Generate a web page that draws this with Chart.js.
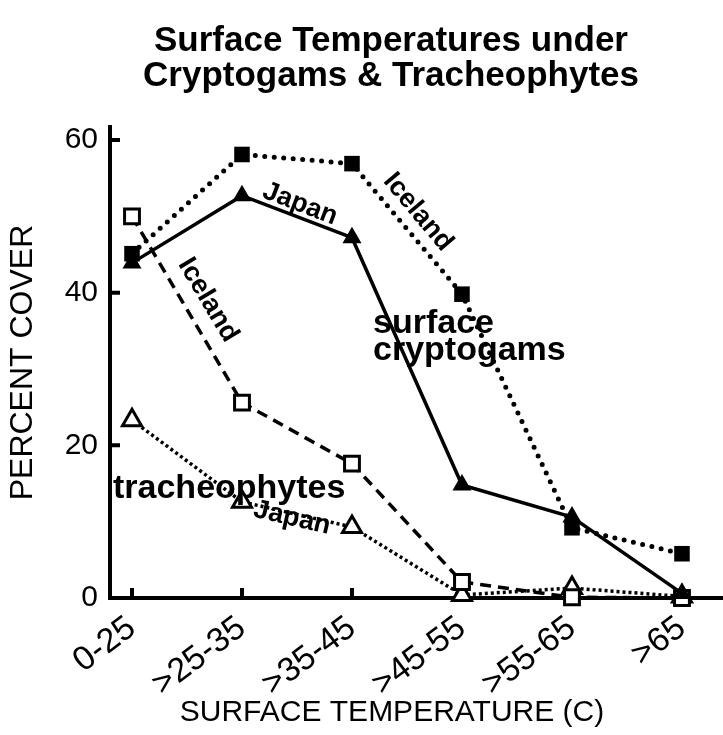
<!DOCTYPE html>
<html><head><meta charset="utf-8">
<script src="https://cdn.jsdelivr.net/npm/chart.js@4/dist/chart.umd.min.js"></script>
<style>html,body{margin:0;padding:0;background:#fff;overflow:hidden;} #wrap{width:723px;height:735px;}</style>
</head><body><div id="wrap"><canvas id="c" width="723" height="735"></canvas></div>
<script>
const categories = ['0-25', '>25-35', '>35-45', '>45-55', '>55-65', '>65'];
const icelandCryptogams = [45.1, 58.1, 56.9, 39.8, 9.2, 5.8];
const japanCryptogams = [43.9, 52.7, 47.2, 14.8, 10.6, 0.6];
const icelandTracheophytes = [50.0, 25.6, 17.6, 2.1, 0.1, 0.0];
const japanTracheophytes = [23.3, 12.6, 9.3, 0.4, 1.3, 0.2];
const yTicks = [0, 20, 40, 60];

const toPts = arr => arr.map((v, i) => ({x: i, y: v}));
const FONT = "'Liberation Sans', Arial, Helvetica, sans-serif";

const textPlugin = {
  id: 'texts',
  afterDraw(chart) {
    const ctx = chart.ctx;
    ctx.save();
    ctx.fillStyle = '#000';
    ctx.font = "bold 35px " + FONT;
    ctx.textAlign = 'center';
    ctx.textBaseline = 'alphabetic';
    ctx.fillText('Surface Temperatures under', 391, 51);
    ctx.fillText('Cryptogams & Tracheophytes', 391, 86);
    ctx.font = "30px " + FONT;
    ctx.fillText('SURFACE TEMPERATURE (C)', 392, 721);
    const rot = (txt, x, y, deg, font) => {
      ctx.save();
      ctx.translate(x, y);
      ctx.rotate(deg * Math.PI / 180);
      ctx.font = font;
      ctx.textAlign = 'center';
      ctx.textBaseline = 'middle';
      ctx.fillText(txt, 0, 0);
      ctx.restore();
    };
    rot('Japan', 300, 204, 21, "bold 27px " + FONT);
    rot('Iceland', 418, 212, 50, "bold 27px " + FONT);
    rot('Iceland', 208, 300, 59, "bold 27px " + FONT);
    rot('Japan', 292, 518, 13, "bold 27px " + FONT);
    ctx.font = "bold 34px " + FONT;
    ctx.textAlign = 'left';
    ctx.textBaseline = 'alphabetic';
    ctx.fillText('surface', 373, 333);
    ctx.fillText('cryptogams', 373, 360);
    ctx.fillText('tracheophytes', 113, 498);
    ctx.restore();
  }
};

const tickPlugin = {
  id: 'inTicks',
  beforeDatasetsDraw(chart) {
    const ctx = chart.ctx;
    const xs = chart.scales.x, ys = chart.scales.y;
    const a = chart.chartArea;
    ctx.save();
    ctx.strokeStyle = '#000';
    ctx.lineWidth = 4;
    ctx.lineCap = 'butt';
    ctx.beginPath();
    yTicks.forEach(v => {
      const py = ys.getPixelForValue(v);
      ctx.moveTo(a.left, py);
      ctx.lineTo(a.left + 10, py);
    });
    categories.forEach((c, i) => {
      const px = xs.getPixelForValue(i);
      ctx.moveTo(px, a.bottom);
      ctx.lineTo(px, a.bottom - 10);
    });
    ctx.stroke();
    ctx.restore();
  }
};

new Chart(document.getElementById('c'), {
  type: 'line',
  data: {
    datasets: [
      {
        label: 'Iceland cryptogams',
        data: toPts(icelandCryptogams),
        borderColor: '#000', backgroundColor: '#000',
        borderWidth: 5, borderDash: [0, 9.5], borderCapStyle: 'round',
        pointStyle: 'rect', pointRadius: 11, pointBorderWidth: 0,
        pointBackgroundColor: '#000', clip: false
      },
      {
        label: 'Japan cryptogams',
        data: toPts(japanCryptogams),
        borderColor: '#000', backgroundColor: '#000',
        borderWidth: 3.5,
        pointStyle: 'triangle', pointRadius: 11, pointBorderWidth: 0,
        pointBackgroundColor: '#000', clip: false
      },
      {
        label: 'Iceland tracheophytes',
        data: toPts(icelandTracheophytes),
        borderColor: '#000', backgroundColor: '#fff',
        borderWidth: 3.5, borderDash: [11, 7],
        pointStyle: 'rect', pointRadius: 10.5, pointBorderWidth: 3,
        pointBackgroundColor: '#fff', pointBorderColor: '#000', clip: false
      },
      {
        label: 'Japan tracheophytes',
        data: toPts(japanTracheophytes),
        borderColor: '#000', backgroundColor: '#fff',
        borderWidth: 3.5, borderDash: [3, 3],
        pointStyle: 'triangle', pointRadius: 11, pointBorderWidth: 3,
        pointBackgroundColor: '#fff', pointBorderColor: '#000', clip: false
      }
    ]
  },
  options: {
    responsive: false,
    devicePixelRatio: 1,
    animation: false,
    layout: {autoPadding: false, padding: {top: 127, right: 0, left: 0, bottom: 0}},
    plugins: {legend: {display: false}, tooltip: {enabled: false}, title: {display: false}},
    elements: {line: {tension: 0}},
    scales: {
      x: {
        type: 'linear',
        min: -0.2, max: 5.373,
        afterBuildTicks: s => { s.ticks = categories.map((c, i) => ({value: i})); },
        afterFit: s => { s.height = 137; s.paddingRight = 0; s.paddingLeft = 0; },
        grid: {display: false, drawTicks: false},
        border: {display: true, color: '#000', width: 4},
        ticks: {
          autoSkip: false, minRotation: 37, maxRotation: 37, padding: 10,
          color: '#000', font: {family: FONT, size: 34},
          callback: (v) => categories[Math.round(v)]
        }
      },
      y: {
        type: 'linear',
        min: 0, max: 61.7,
        afterBuildTicks: s => { s.ticks = yTicks.map(v => ({value: v})); },
        afterFit: s => { s.width = 110; },
        grid: {display: false, drawTicks: false},
        border: {display: true, color: '#000', width: 4},
        ticks: {padding: 12, color: '#000', font: {family: FONT, size: 30}},
        title: {display: true, text: 'PERCENT COVER', color: '#000',
                font: {family: FONT, size: 32}, padding: {top: 4, bottom: 4}}
      }
    }
  },
  plugins: [tickPlugin, textPlugin]
});
</script></body></html>
